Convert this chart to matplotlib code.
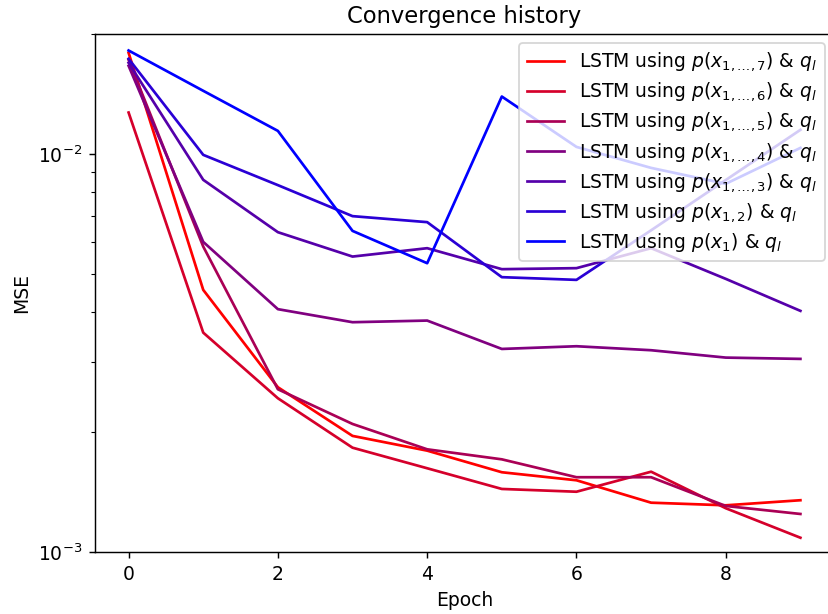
import matplotlib
matplotlib.use('Agg')
import matplotlib.pyplot as plt

epochs = list(range(10))

# MSE per epoch, one list per model
mse_x1_7 = [0.01794, 0.004553, 0.002593, 0.001957, 0.001797, 0.001586, 0.001514, 0.001330, 0.001310, 0.001349]
mse_x1_6 = [0.01270, 0.003556, 0.002433, 0.001828, 0.001623, 0.001440, 0.001417, 0.001591, 0.001288, 0.001086]
mse_x1_5 = [0.01722, 0.005850, 0.002563, 0.002097, 0.001811, 0.001709, 0.001541, 0.001541, 0.001305, 0.001246]
mse_x1_4 = [0.01664, 0.006010, 0.004073, 0.003777, 0.003813, 0.003236, 0.003287, 0.003212, 0.003078, 0.003055]
mse_x1_3 = [0.01693, 0.008605, 0.006357, 0.005521, 0.005795, 0.005133, 0.005163, 0.005795, 0.004853, 0.004033]
mse_x1_2 = [0.01733, 0.009942, 0.008345, 0.006975, 0.006737, 0.004901, 0.004825, 0.006427, 0.008595, 0.01149]
mse_x1 = [0.01818, 0.01440, 0.01142, 0.006405, 0.005313, 0.01393, 0.01041, 0.00922, 0.00841, 0.01035]

series = [mse_x1_7, mse_x1_6, mse_x1_5, mse_x1_4, mse_x1_3, mse_x1_2, mse_x1]
labels = [
    r'LSTM using $p(x_{1,\ldots,7})$ & $q_l$',
    r'LSTM using $p(x_{1,\ldots,6})$ & $q_l$',
    r'LSTM using $p(x_{1,\ldots,5})$ & $q_l$',
    r'LSTM using $p(x_{1,\ldots,4})$ & $q_l$',
    r'LSTM using $p(x_{1,\ldots,3})$ & $q_l$',
    r'LSTM using $p(x_{1,2})$ & $q_l$',
    r'LSTM using $p(x_1)$ & $q_l$',
]

# text in the reference runs a bit wider than default
plt.rcParams['font.size'] = 10.4


def draw_history():
    fig = plt.figure(figsize=(828 / 130, 614 / 130), dpi=130)
    ax = fig.add_axes([95 / 828, 62 / 614, 739 / 828, 518 / 614])

    n = len(series)
    for i, (mse, label) in enumerate(zip(series, labels)):
        # fade from red to blue
        t = i / (n - 1)
        ax.plot(epochs, mse, color=(1 - t, 0, t), label=label)

    ax.set_yscale('log')
    ax.set_xlim(-0.45, 9.45)
    ax.set_ylim(1e-3, 2e-2)
    ax.set_title('Convergence history', fontsize=12.5)
    ax.set_xlabel('Epoch')
    ax.set_ylabel('MSE')
    # right edge of the axes falls outside the picture
    ax.spines['right'].set_visible(False)
    ax.legend(loc='upper right', labelspacing=0.38, borderaxespad=0.48)

    fig.savefig('out.png', dpi=130)


if __name__ == '__main__':
    draw_history()
